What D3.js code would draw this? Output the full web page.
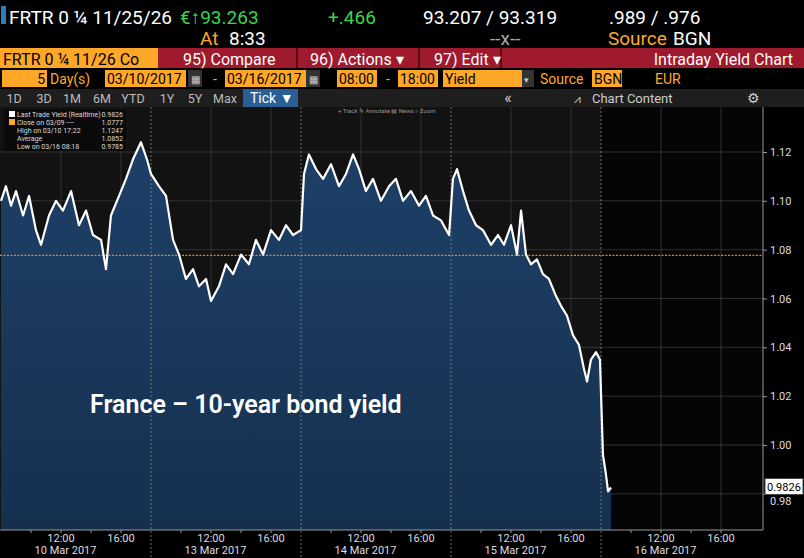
<!DOCTYPE html>
<html><head><meta charset="utf-8">
<script src="https://cdn.jsdelivr.net/npm/d3@7"></script>
<style>
body{margin:0;background:#000;overflow:hidden}
text{font-family:"Roboto",sans-serif}
</style></head>
<body><svg id="c" width="804" height="558"></svg>
<script>
// hours on the trading timeline (each day 08:00-18:00 = 10h), starting 10 Mar 08:00
const hours = [
  0,0.33,0.67,1,1.47,1.87,2.33,2.67,3.2,3.67,4.13,4.67,5.2,5.67,6.13,6.67,7,7.33,7.87,8.33,8.8,9.33,9.73,
  10,10.53,11,11.47,11.87,12.33,12.8,13.2,13.67,14,14.53,15,15.47,16,16.53,17,17.47,18,18.53,19,19.47,
  20,20.2,20.53,21,21.47,22,22.53,23,23.47,23.87,24.33,24.8,25.33,25.87,26.33,26.8,27.33,27.87,28.33,28.8,29.33,29.87,
  30.13,30.4,30.8,31.2,31.67,32.13,32.67,33.13,33.53,34,34.4,34.67,35,35.33,35.73,36.13,36.53,37,37.33,37.73,38.13,38.53,38.87,39.07,39.33,39.67,39.93,
  40.13,40.33,40.47,40.67
];
const yields = [
  1.100,1.106,1.098,1.104,1.094,1.102,1.088,1.082,1.094,1.100,1.096,1.104,1.090,1.096,1.086,1.084,1.072,1.094,1.102,1.109,1.117,1.124,1.117,
  1.111,1.106,1.102,1.084,1.078,1.068,1.072,1.065,1.068,1.059,1.065,1.074,1.070,1.078,1.074,1.084,1.078,1.088,1.084,1.090,1.086,
  1.088,1.111,1.119,1.113,1.109,1.115,1.106,1.111,1.119,1.113,1.104,1.109,1.100,1.106,1.109,1.100,1.104,1.098,1.102,1.094,1.092,1.086,
  1.109,1.113,1.104,1.096,1.090,1.088,1.082,1.086,1.082,1.090,1.078,1.096,1.078,1.074,1.076,1.070,1.068,1.061,1.057,1.053,1.045,1.041,1.031,1.026,1.035,1.038,1.035,
  0.996,0.988,0.981,0.9826
];
const dayLabels = ["10 Mar 2017","13 Mar 2017","14 Mar 2017","15 Mar 2017","16 Mar 2017"];
const yTicks = [0.98,1.00,1.02,1.04,1.06,1.08,1.10,1.12];
const closeValue = 1.0777;
const lastValue = 0.9826;
const legendRows = [
  ["Last Trade Yield (Realtime)","0.9826"],["Close on 03/09 ----","1.0777"],
  ["High on 03/10 17:22","1.1247"],["Average","1.0852"],["Low on 03/16 08:18","0.9785"]
];
const rangeButtons = ["1D","3D","1M","6M","YTD","1Y","5Y","Max"];
const rangeButtonX = [14,44,72,102,133,167,195,225];

const svg = d3.select("#c");
const data = hours.map((h,i)=>({h, v: yields[i]}));

const x = d3.scaleLinear().domain([0,50.8]).range([1,763]);
const y = d3.scaleLinear().domain([1.00,1.12]).range([445,152]);
const plotTop = 107, plotBottom = 530;

// header
svg.append("rect").attr("x",1).attr("y",6).attr("width",5).attr("height",18).attr("fill","#2a7fb8");
const hdr = [
  [9,24,"FRTR 0 ¼  11/25/26","#fff"],[180,24,"€↑93.263","#3dd34a"],
  [328,24,"+.466","#3dd34a"],[423,24,"93.207 / 93.319","#fff"],
  [609,24,".989 / .976","#fff"],[200,45,"At","#ffa726"],[229,45,"8:33","#fff"],
  [490,45,"--x--","#aaa"],[608,45,"Source","#ffa726"],[673,45,"BGN","#fff"]
];
hdr.forEach(d=>svg.append("text").attr("x",d[0]).attr("y",d[1]).attr("fill",d[3])
  .attr("font-size",19).text(d[2]));

// red command bar
svg.append("rect").attr("x",0).attr("y",48).attr("width",804).attr("height",20).attr("fill","#9e1a2c");
svg.append("rect").attr("x",0).attr("y",48).attr("width",158).attr("height",20).attr("fill","#ffa726");
svg.append("text").attr("x",3).attr("y",65).attr("font-size",16).attr("fill","#000").text("FRTR 0 ¼  11/26 Co");
[296,418,500].forEach(px=>svg.append("rect").attr("x",px).attr("y",48).attr("width",2).attr("height",20).attr("fill","#5a0a14"));
svg.append("text").attr("x",183).attr("y",65).attr("font-size",16).attr("fill","#fff").text("95) Compare");
svg.append("text").attr("x",310).attr("y",65).attr("font-size",16).attr("fill","#fff").text("96) Actions ▾");
svg.append("text").attr("x",434).attr("y",65).attr("font-size",16).attr("fill","#fff").text("97) Edit ▾");
svg.append("text").attr("x",793).attr("y",65).attr("font-size",16).attr("fill","#fff").attr("text-anchor","end").text("Intraday Yield Chart");

// orange option row
const boxes = [[2,45,"5"],[105,81,"03/10/2017"],[225,81,"03/16/2017"],[337,40,"08:00"],[398,40,"18:00"],[443,82,"Yield"],[592,30,"BGN"]];
boxes.forEach(b=>{
  svg.append("rect").attr("x",b[0]).attr("y",70).attr("width",b[1]).attr("height",17).attr("fill","#ffa726");
  svg.append("text").attr("x",b[2]==="5"?b[0]+b[1]-2:b[0]+2).attr("y",84).attr("font-size",14)
    .attr("text-anchor",b[2]==="5"?"end":"start").attr("fill","#000").text(b[2]);
});
svg.append("text").attr("x",50).attr("y",84).attr("font-size",14).attr("fill","#ffa726").text("Day(s)");
svg.append("text").attr("x",213).attr("y",84).attr("font-size",14).attr("fill","#ffa726").text("-");
svg.append("text").attr("x",386).attr("y",84).attr("font-size",14).attr("fill","#ffa726").text("-");
svg.append("text").attr("x",540).attr("y",84).attr("font-size",14).attr("fill","#ffa726").text("Source");
svg.append("text").attr("x",655).attr("y",84).attr("font-size",14).attr("fill","#ffa726").text("EUR");
[188,306].forEach(px=>{svg.append("rect").attr("x",px).attr("y",70).attr("width",14).attr("height",17).attr("fill","#333");
  svg.append("text").attr("x",px+3).attr("y",83).attr("font-size",10).attr("fill","#ccc").text("▦");});
svg.append("rect").attr("x",522).attr("y",70).attr("width",12).attr("height",17).attr("fill","#333");
svg.append("text").attr("x",524).attr("y",83).attr("font-size",9).attr("fill","#ccc").text("▾");

// button row
svg.append("rect").attr("x",0).attr("y",89).attr("width",804).attr("height",18).attr("fill","#1e1e1e");
rangeButtons.forEach((b,i)=>svg.append("text").attr("x",rangeButtonX[i]).attr("y",103).attr("font-size",12.5)
  .attr("fill","#bbb").attr("text-anchor","middle").text(b));
svg.append("rect").attr("x",243).attr("y",89).attr("width",55).attr("height",18).attr("fill","#2a5f95");
svg.append("text").attr("x",250).attr("y",103).attr("font-size",14).attr("fill","#fff").text("Tick ▼");
svg.append("text").attr("x",508).attr("y",103).attr("font-size",16).attr("fill","#ccc").attr("text-anchor","middle").text("«");
svg.append("text").attr("x",592).attr("y",103).attr("font-size",13).attr("fill","#ccc").text("Chart Content");
svg.append("text").attr("x",574).attr("y",103).attr("font-size",12).attr("fill","#ccc").text("⩘");
svg.append("text").attr("x",753).attr("y",103).attr("font-size",14).attr("fill","#ccc").attr("text-anchor","middle").text("⚙");

// plot background
svg.append("rect").attr("x",0).attr("y",plotTop).attr("width",763).attr("height",plotBottom-plotTop).attr("fill","#121212");
svg.append("rect").attr("x",x(40)).attr("y",plotTop).attr("width",763-x(40)).attr("height",plotBottom-plotTop).attr("fill","#050505");

// grid
const grid = svg.append("g").attr("stroke","#3a3a3a").attr("stroke-width",0.8);
yTicks.forEach(t=>grid.append("line").attr("x1",0).attr("x2",763).attr("y1",y(t)).attr("y2",y(t)));
for(let d=0; d<5; d++){[4,8].forEach(o=>grid.append("line").attr("x1",x(d*10+o)).attr("x2",x(d*10+o)).attr("y1",plotTop).attr("y2",plotBottom));}

// area + line
const area = d3.area().x(d=>x(d.h)).y0(plotBottom).y1(d=>y(d.v));
const grad = svg.append("defs").append("linearGradient").attr("id","g").attr("x1",0).attr("x2",0).attr("y1",0).attr("y2",1);
grad.append("stop").attr("offset","0%").attr("stop-color","#1e4068");
grad.append("stop").attr("offset","100%").attr("stop-color","#15304f");
svg.append("path").datum(data).attr("d",area).attr("fill","url(#g)");

// day separators
const sep = svg.append("g").attr("stroke","#888").attr("stroke-dasharray","2,2").attr("stroke-width",0.8);
[10,20,30,40].forEach(h=>sep.append("line").attr("x1",x(h)).attr("x2",x(h)).attr("y1",plotTop).attr("y2",558));

svg.append("line").attr("x1",0).attr("x2",763).attr("y1",y(closeValue)).attr("y2",y(closeValue))
  .attr("stroke","#e08a1e").attr("stroke-width",1.2).attr("stroke-dasharray","2,1.5");

svg.append("path").datum(data).attr("fill","none").attr("stroke","#fff").attr("stroke-width",2.2)
  .attr("stroke-linejoin","round").attr("d",d3.line().x(d=>x(d.h)).y(d=>y(d.v)));

// right axis
const ra = svg.append("g").attr("transform","translate(763,0)")
  .call(d3.axisRight(y).tickValues(yTicks).tickFormat(d3.format(".2f")).tickSize(4));
ra.select(".domain").attr("stroke","#999").attr("d",`M0,${plotTop}V${plotBottom}`);
ra.selectAll("line").attr("stroke","#999");
ra.selectAll("text").attr("fill","#ddd").attr("font-size",11).attr("font-family","Liberation Sans, sans-serif");
ra.selectAll(".tick").filter(d=>d===0.98).select("text").attr("dy","0.95em");
svg.append("rect").attr("x",765).attr("y",y(lastValue)-9).attr("width",38).attr("height",16).attr("fill","#fff").attr("stroke","#444");
svg.append("text").attr("x",767).attr("y",y(lastValue)+4).attr("font-size",11).attr("fill","#000").attr("font-family","Liberation Sans, sans-serif").text(lastValue);

// bottom axis
svg.append("line").attr("x1",0).attr("x2",763).attr("y1",plotBottom).attr("y2",plotBottom).attr("stroke","#999");
const bt = svg.append("g").attr("font-family","Liberation Sans, sans-serif");
dayLabels.forEach((lab,i)=>{
  [[4,"12:00"],[8,"16:00"]].forEach(o=>bt.append("text").attr("x",x(i*10+o[0])).attr("y",542)
    .attr("text-anchor","middle").attr("font-size",11).attr("fill","#ddd").text(o[1]));
  [2,4,6,8].forEach(o=>bt.append("line").attr("x1",x(i*10+o)).attr("x2",x(i*10+o)).attr("y1",plotBottom).attr("y2",plotBottom+3).attr("stroke","#999"));
  bt.append("text").attr("x",x(i*10+4.3)).attr("y",554).attr("text-anchor","middle").attr("font-size",11).attr("fill","#ddd").text(lab);
});

// legend
const lg = svg.append("g").attr("transform","translate(4,109)");
lg.append("rect").attr("width",122).attr("height",42).attr("fill","#0a0a0a");
legendRows.forEach((r,i)=>{
  lg.append("text").attr("x",13).attr("y",8+i*8).attr("font-size",7).attr("fill","#ddd").text(r[0]);
  lg.append("text").attr("x",119).attr("y",8+i*8).attr("font-size",7).attr("fill","#ddd").attr("text-anchor","end").text(r[1]);
});
lg.append("rect").attr("x",5).attr("y",2).attr("width",6).attr("height",6).attr("fill","#fff");
lg.append("rect").attr("x",5).attr("y",10).attr("width",6).attr("height",6).attr("fill","#ffa726");
svg.append("text").attr("x",338).attr("y",113).attr("font-size",6).attr("fill","#999").text("+ Track    ✎ Annotate    ▤ News    ⌕ Zoom");

// title
svg.append("text").attr("x",90).attr("y",413).attr("font-size",25).attr("font-weight",600)
  .attr("fill","#fff").attr("font-family","Open Sans, sans-serif").text("France – 10-year bond yield");
</script></body></html>
